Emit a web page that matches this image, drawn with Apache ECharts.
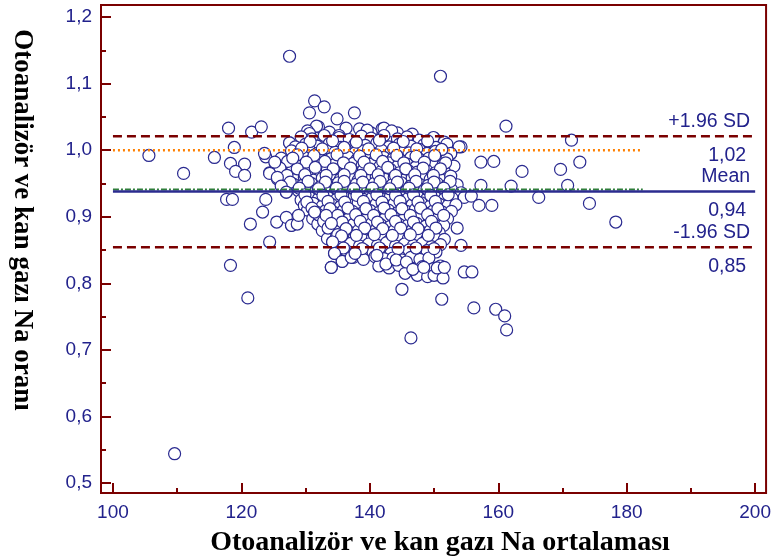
<!DOCTYPE html>
<html><head><meta charset="utf-8">
<script src="https://cdn.jsdelivr.net/npm/echarts@6/dist/echarts.min.js"></script>
<style>html,body{margin:0;padding:0;background:#fff}#c{width:774px;height:559px}</style>
</head><body><div id="c"></div>
<script>
// ---- axis ticks ----
const xMajorTicks = [100, 120, 140, 160, 180, 200];
const xMinorTicks = [110, 130, 150, 170, 190];
const yMajorTicks = [0.5, 0.6, 0.7, 0.8, 0.9, 1.0, 1.1, 1.2];
const yMinorTicks = [0.55, 0.65, 0.75, 0.85, 0.95, 1.05, 1.15];
const xRange = [98.14, 201.7];
const yRange = [0.485, 1.218];

// ---- reference lines ----
const meanRatio = 0.938;
const upperLimit = 1.021;
const lowerLimit = 0.854;
const equalityLine = 1.0;
const regressionLine = 0.941;
const lineSpan = [100, 200];
const shortLineSpan = [100, 182.5];

// ---- points (mean Na, ratio) ----
const upperPoints = [[131.4,1.074],[130.6,1.056],[132.9,1.065],[137.6,1.056],[134.9,1.047],[132.0,1.035],[131.7,1.036],[130.3,1.029],[127.5,1.011],[141.9,1.032],[136.3,1.033],[138.4,1.032],[133.7,1.027],[130.6,1.025],[135.2,1.022],[140.2,1.026],[142.2,1.033],[144.3,1.026],[145.8,1.018],[148.8,1.011],[150.0,1.018],[151.6,1.009],[154.2,1.005],[152.6,0.995],[148.4,1.008],[130.3,1.015],[139.6,1.030],[143.4,1.029],[146.6,1.024]];

const corePoints = [
[129.3,1.020],[131.0,1.017],[132.9,1.022],[135.2,1.019],[136.8,1.016],[138.7,1.021],[140.2,1.018],[142.2,1.022],[144.3,1.017],[145.8,1.020],[147.7,1.015],[149.9,1.019],[151.6,1.012],
[127.5,1.011],[128.4,1.005],[130.0,1.009],[131.8,1.006],[133.7,1.010],[135.5,1.004],[137.6,1.008],[139.3,1.007],[141.1,1.011],[143.0,1.005],[144.6,1.009],[146.4,1.006],[148.4,1.008],[150.3,1.004],[152.0,1.009],[153.9,1.005],
[127.8,0.999],[129.0,0.996],[130.6,1.000],[131.8,0.995],[133.4,0.999],[134.6,0.997],[136.2,1.001],[137.7,0.996],[139.0,0.999],[140.5,0.995],[141.8,1.000],[143.3,0.997],[144.9,0.999],[146.1,0.996],[147.7,1.001],[148.9,0.995],[150.2,0.998],[152.6,0.995],
[126.2,0.988],[128.4,0.986],[129.7,0.990],[130.9,0.985],[132.5,0.989],[133.9,0.987],[135.3,0.984],[136.6,0.990],[138.0,0.986],[139.4,0.988],[140.8,0.985],[142.2,0.989],[143.6,0.987],[145.0,0.984],[146.4,0.989],[147.8,0.986],[149.2,0.988],[150.8,0.985],[152.0,0.987],
[125.3,0.980],[127.3,0.977],[129.0,0.979],[130.4,0.976],[131.8,0.981],[133.2,0.977],[134.6,0.979],[136.0,0.975],[137.4,0.980],[138.8,0.977],[140.2,0.979],[141.6,0.976],[143.0,0.981],[144.4,0.977],[145.8,0.979],[147.2,0.975],[148.6,0.980],[150.0,0.977],[151.4,0.978],[153.1,0.976],
[124.4,0.966],[126.2,0.969],[127.8,0.967],[129.2,0.970],[130.6,0.966],[132.0,0.968],[133.4,0.971],[134.8,0.966],[136.2,0.969],[137.6,0.967],[139.0,0.970],[140.4,0.965],[141.8,0.968],[143.2,0.971],[144.6,0.966],[146.0,0.969],[147.4,0.967],[148.8,0.970],[150.2,0.966],[151.6,0.968],
[125.6,0.957],[126.9,0.960],[128.4,0.956],[129.8,0.959],[131.2,0.955],[132.6,0.958],[134.0,0.961],[135.4,0.956],[136.8,0.959],[138.2,0.955],[139.6,0.958],[141.0,0.960],[142.4,0.956],[143.8,0.959],[145.2,0.955],[146.6,0.958],[148.0,0.961],[149.4,0.956],[150.8,0.958],
[126.6,0.946],[128.1,0.949],[129.5,0.947],[130.9,0.950],[132.3,0.945],[133.7,0.948],[135.1,0.951],[136.5,0.946],[137.9,0.949],[139.3,0.947],[140.7,0.950],[142.1,0.945],[143.5,0.948],[144.9,0.951],[146.3,0.946],[147.7,0.949],[149.1,0.947],[150.5,0.950],[151.9,0.946],[153.6,0.948],
[127.0,0.937],[128.9,0.939],[130.3,0.936],[131.7,0.940],[133.1,0.938],[134.5,0.935],[135.9,0.939],[137.3,0.937],[138.7,0.941],[140.1,0.936],[141.5,0.938],[142.9,0.940],[144.3,0.935],[145.7,0.939],[147.1,0.937],[148.5,0.940],[149.9,0.936],[151.3,0.938],[152.7,0.941],[154.2,0.936],
[129.3,0.925],[130.6,0.929],[132.0,0.927],[133.4,0.930],[134.8,0.926],[136.2,0.928],[137.6,0.931],[139.0,0.926],[140.4,0.929],[141.8,0.927],[143.2,0.930],[144.6,0.925],[146.0,0.928],[147.4,0.931],[148.8,0.926],[150.2,0.929],[151.6,0.927],[152.8,0.928],[154.7,0.929],[155.8,0.931],
[129.8,0.917],[131.2,0.920],[132.6,0.916],[134.0,0.919],[135.4,0.915],[136.8,0.918],[138.2,0.921],[139.6,0.916],[141.0,0.919],[142.4,0.917],[143.8,0.920],[145.2,0.915],[146.6,0.918],[148.0,0.921],[149.4,0.916],[150.8,0.919],[152.2,0.917],[153.4,0.918],
[130.3,0.910],[131.7,0.907],[133.1,0.909],[134.5,0.906],[135.9,0.910],[137.3,0.908],[138.7,0.905],[140.1,0.909],[141.5,0.907],[142.9,0.910],[144.3,0.906],[145.7,0.908],[147.1,0.911],[148.5,0.906],[149.9,0.909],[151.3,0.907],[152.7,0.908],
[128.7,0.899],[131.1,0.897],[132.5,0.900],[133.9,0.896],[135.3,0.899],[136.7,0.897],[138.1,0.901],[139.5,0.896],[140.9,0.899],[142.3,0.897],[143.7,0.900],[145.1,0.895],[146.5,0.898],[147.9,0.901],[149.3,0.896],[150.7,0.899],[152.1,0.897],
[127.8,0.887],[131.9,0.889],[133.3,0.886],[134.7,0.890],[136.1,0.887],[137.5,0.889],[138.9,0.886],[140.3,0.890],[141.7,0.888],[143.1,0.885],[144.5,0.889],[145.9,0.887],[147.3,0.890],[148.7,0.886],[150.1,0.888],[151.5,0.887],
[132.6,0.879],[134.0,0.876],[135.4,0.880],[136.8,0.877],[138.2,0.879],[139.6,0.876],[141.0,0.881],[142.4,0.877],[143.8,0.879],[145.2,0.876],[146.6,0.880],[148.0,0.877],[149.4,0.879],[150.8,0.876],[153.6,0.883],
[133.4,0.867],[134.8,0.870],[136.2,0.866],[137.6,0.869],[139.0,0.865],[140.4,0.868],[141.8,0.871],[143.2,0.866],[144.6,0.869],[146.0,0.867],[147.4,0.870],[148.8,0.865],[150.2,0.868],[151.6,0.866],
[134.2,0.862],[135.6,0.857],[137.0,0.860],[138.4,0.856],[139.8,0.859],[141.2,0.857],[142.6,0.861],[144.0,0.856],[145.4,0.859],[146.8,0.857],[148.2,0.860],[149.6,0.855],[151.0,0.858],[154.2,0.857],
[134.5,0.845],[136.3,0.849],[137.7,0.846],[139.1,0.850],[140.5,0.847],[141.9,0.849],[143.3,0.845],[144.7,0.848],[146.1,0.850],[147.5,0.846],[148.9,0.849],[150.3,0.847],
[135.7,0.833],[137.4,0.839],[139.0,0.836],[140.8,0.840],[142.2,0.837],[143.6,0.838],[145.0,0.835],[146.4,0.839],[147.8,0.836],[149.2,0.838],
[134.0,0.824],[141.4,0.826],[143.0,0.823],[144.5,0.827],[146.5,0.822],[148.2,0.825],[149.9,0.822],[151.0,0.826],
[145.5,0.815],[147.4,0.812],[149.0,0.810],[150.5,0.813]
];

const coreExtraPoints = [
[130.7,1.013],[134.2,1.014],[137.9,1.012],[141.5,1.015],[145.2,1.013],[149.0,1.014],
[129.4,1.003],[132.6,1.002],[136.0,1.004],[139.8,1.002],[143.7,1.003],[147.3,1.002],[151.2,1.001],
[128.7,0.993],[131.3,0.992],[134.9,0.993],[138.4,0.991],[141.0,0.993],[144.2,0.992],[147.2,0.991],[150.1,0.992],
[127.2,0.983],[130.1,0.982],[133.0,0.983],[135.9,0.981],[139.1,0.982],[142.0,0.983],[145.3,0.981],[148.5,0.982],[151.8,0.981],
[126.0,0.973],[128.7,0.972],[131.5,0.974],[134.3,0.972],[137.0,0.973],[140.0,0.972],[142.8,0.974],[145.6,0.972],[148.3,0.973],[151.0,0.972],
[127.1,0.962],[129.9,0.963],[133.2,0.962],[136.0,0.963],[138.6,0.962],[141.3,0.963],[144.0,0.962],[147.0,0.963],[149.9,0.962],[152.6,0.961],
[127.6,0.952],[130.4,0.953],[133.1,0.952],[136.0,0.953],[138.9,0.952],[141.6,0.953],[144.3,0.952],[147.2,0.953],[150.0,0.952],[152.5,0.953],
[129.0,0.943],[132.0,0.942],[134.8,0.943],[137.5,0.942],[140.4,0.943],[143.1,0.942],[146.1,0.943],[148.9,0.942],[151.5,0.943],
[129.9,0.933],[132.7,0.932],[135.5,0.933],[138.0,0.932],[141.1,0.933],[144.0,0.932],[146.8,0.933],[149.5,0.932],[152.2,0.933],
[130.2,0.922],[133.5,0.923],[136.1,0.922],[139.0,0.923],[141.9,0.922],[144.7,0.923],[147.5,0.922],[150.2,0.923],
[131.0,0.913],[133.8,0.912],[136.6,0.913],[139.4,0.912],[142.2,0.913],[145.0,0.912],[147.9,0.913],[150.6,0.912],
[132.0,0.903],[135.0,0.902],[137.8,0.903],[140.6,0.902],[143.3,0.903],[146.3,0.902],[149.0,0.903],[151.5,0.902],
[132.8,0.893],[135.7,0.892],[138.5,0.893],[141.2,0.892],[144.0,0.893],[146.8,0.892],[149.6,0.893],
[133.5,0.883],[136.3,0.882],[139.2,0.883],[142.0,0.882],[144.8,0.883],[147.5,0.882],[150.3,0.883],
[135.0,0.873],[137.9,0.872],[140.7,0.873],[143.5,0.872],[146.3,0.873],[149.1,0.872],
[135.9,0.853],[138.8,0.852],[141.5,0.853],[144.4,0.852],[147.2,0.853],[150.0,0.852]
];

const leftFringePoints = [[121.6,1.027],[118.0,1.033],[123.1,1.035],[115.8,0.989],[118.9,1.004],[118.3,0.980],[120.5,0.979],[119.1,0.968],[120.5,0.962],[123.8,0.990],[123.6,0.995],[125.2,0.982],[128.0,0.988],[124.4,0.965],[125.6,0.959],[126.2,0.946],[127.0,0.937],
[117.7,0.926],[118.6,0.926],[123.8,0.926],[123.3,0.907],[121.4,0.889],[124.4,0.862],[118.3,0.827],[125.5,0.892],[127.0,0.899],[127.8,0.887],[128.7,0.889],[128.9,0.902],[131.4,0.907],[133.2,0.902],[134.0,0.890],[135.6,0.871],[134.2,0.862],[134.5,0.845],[135.7,0.833],[134.0,0.824],[137.1,0.839],[137.7,0.845]];

const bottomPoints = [[141.1,0.842],[142.5,0.829],[144.1,0.835],[145.7,0.832],[146.7,0.821],[148.4,0.824],[150.0,0.812],[151.4,0.808],[150.5,0.823],[151.6,0.824],[154.7,0.817],[155.9,0.817],[145.0,0.791],[151.2,0.776],[156.2,0.763],[146.4,0.718],[159.6,0.761],[161.0,0.751],[161.3,0.730]];

const outlierPoints = [[127.5,1.141],[151.0,1.111],[109.6,0.544],[105.6,0.992],[111.0,0.965],[121.0,0.778],
[161.2,1.036],[171.4,1.015],[172.7,0.982],[163.7,0.968],[169.7,0.971],[170.8,0.947],[166.3,0.929],[174.2,0.920],[178.3,0.892],[159.3,0.983],[162.0,0.946],[159.0,0.917],[157.3,0.982],[157.3,0.947],[157.0,0.917]];

const allPoints = [].concat(upperPoints, corePoints, coreExtraPoints, leftFringePoints, bottomPoints, outlierPoints);

// ---- styles ----
const axisColor = '#7a0000';
const textBlue = '#22228c';
const comma = (v, d) => v.toFixed(d).replace('.', ',');

function hLine(y, span, style, labels) {
  const s = {
    type: 'line', data: [[span[0], y], [span[1], y]], symbol: 'none', silent: true,
    lineStyle: style, z: 5, animation: false
  };
  if (labels) {
    s.markLine = {
      symbol: ['none', 'none'], silent: true, animation: false,
      lineStyle: { color: 'rgba(0,0,0,0)', width: 1, type: 'solid' },
      label: { show: true, color: textBlue, fontSize: 19.5, fontFamily: 'Liberation Sans, Arial, sans-serif' },
      data: [
        [{ coord: [span[0], y], label: { show: true, position: 'insideEndTop', formatter: labels[0], distance: 5, color: textBlue } }, { coord: [span[1], y] }],
        [{ coord: [span[0], y], label: { show: true, position: 'insideEndBottom', formatter: labels[1], distance: 9, color: textBlue } }, { coord: [span[1], y] }]
      ]
    };
  }
  return s;
}

const chart = echarts.init(document.getElementById('c'));
chart.setOption({
  animation: false,
  backgroundColor: '#fff',
  grid: { left: 101, right: 6, top: 5, bottom: 66, show: true, borderColor: axisColor, borderWidth: 2 },
  xAxis: [
    { type: 'value', min: xRange[0], max: xRange[1],
      axisLine: { show: true, lineStyle: { color: axisColor, width: 2 } },
      axisTick: { inside: true, length: 10, customValues: xMajorTicks, lineStyle: { color: axisColor, width: 2 } },
      axisLabel: { customValues: xMajorTicks, color: textBlue, fontSize: 19, margin: 10, fontFamily: 'Liberation Sans, Arial, sans-serif' },
      splitLine: { show: false } },
    { type: 'value', min: xRange[0], max: xRange[1], position: 'bottom', offset: 0,
      axisLine: { show: false },
      axisTick: { show: true, inside: true, length: 5, customValues: xMinorTicks, lineStyle: { color: axisColor, width: 2 } },
      axisLabel: { show: false }, splitLine: { show: false } }
  ],
  yAxis: [
    { type: 'value', min: yRange[0], max: yRange[1],
      axisLine: { show: true, lineStyle: { color: axisColor, width: 2 } },
      axisTick: { inside: true, length: 10, customValues: yMajorTicks, lineStyle: { color: axisColor, width: 2 } },
      axisLabel: { customValues: yMajorTicks, color: textBlue, fontSize: 19, margin: 9, fontFamily: 'Liberation Sans, Arial, sans-serif',
        formatter: v => comma(v, 1) },
      splitLine: { show: false } },
    { type: 'value', min: yRange[0], max: yRange[1], position: 'left', offset: 0,
      axisLine: { show: false },
      axisTick: { show: true, inside: true, length: 5, customValues: yMinorTicks, lineStyle: { color: axisColor, width: 2 } },
      axisLabel: { show: false }, splitLine: { show: false } }
  ],
  graphic: [
    { type: 'text', x: 440, y: 543, style: { text: 'Otoanalizör ve kan gazı Na ortalaması', textAlign: 'center', textVerticalAlign: 'middle',
      font: 'bold 28px "Liberation Serif", "Times New Roman", serif', fill: '#000' } },
    { type: 'text', x: 22, y: 220, rotation: -Math.PI / 2, style: { text: 'Otoanalizör ve kan gazı Na oranı', textAlign: 'center', textVerticalAlign: 'middle',
      font: 'bold 27px "Liberation Serif", "Times New Roman", serif', fill: '#000' } }
  ],
  series: [
    { type: 'scatter', data: allPoints, symbol: 'circle', symbolSize: 12, z: 2,
      itemStyle: { color: '#ffffff', borderColor: '#2a2a90', borderWidth: 1.2, opacity: 1 } },
    hLine(equalityLine, shortLineSpan, { color: '#ff8000', width: 2.5, type: [2, 3] }),
    hLine(regressionLine, shortLineSpan, { color: '#2e7d3a', width: 2, type: [6, 2, 2, 2] }),
    hLine(meanRatio, lineSpan, { color: '#2b2b8f', width: 2.5, type: 'solid' }, ['Mean', comma(meanRatio, 2)]),
    hLine(upperLimit, lineSpan, { color: axisColor, width: 2.5, type: [9, 5] }, ['+1.96 SD', comma(upperLimit, 2)]),
    hLine(lowerLimit, lineSpan, { color: axisColor, width: 2.5, type: [9, 5] }, ['-1.96 SD', comma(lowerLimit, 2)])
  ]
});
</script></body></html>
